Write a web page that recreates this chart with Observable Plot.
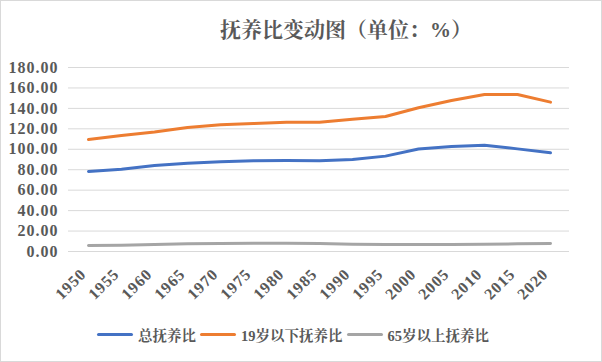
<!DOCTYPE html>
<html>
<head>
<meta charset="utf-8">
<script src="https://cdn.jsdelivr.net/npm/d3@7"></script>
<script src="https://cdn.jsdelivr.net/npm/@observablehq/plot@0.6"></script>
<style>
  html, body { margin: 0; padding: 0; background: #fff; }
  #wrap { position: relative; width: 602px; height: 362px; overflow: hidden; background: #fff;
          font-family: "Liberation Serif", "Noto Serif CJK SC", serif; }
  #border { position: absolute; left: 0; top: 0; width: 602px; height: 362px; box-sizing: border-box;
            border: 1px solid #d9d9d9; pointer-events: none; }
  #title { position: absolute; left: 220px; top: 16px; font-size: 21px; font-weight: bold; color: #595959;
           white-space: nowrap; line-height: 28px; }
  #chart { position: absolute; left: 0; top: 0; }
  #chart svg text { font-family: "Liberation Serif", serif !important; }
  #legend { position: absolute; left: 97px; top: 324px; display: flex; align-items: center; white-space: nowrap;
            font-size: 14.5px; font-weight: bold; color: #595959; }
  .item { display: flex; align-items: center; margin-right: 4px; }
  .swatch { width: 36px; height: 3px; border-radius: 2px; margin-right: 5px; }
</style>
</head>
<body>
<div id="wrap">
  <div id="chart"></div>
  <div id="title">抚养比变动图（单位：%）</div>
  <div id="legend"></div>
  <div id="border"></div>
</div>
<script>
const years = ["1950","1955","1960","1965","1970","1975","1980","1985","1990","1995","2000","2005","2010","2015","2020"];
const seriesNames = ["总抚养比", "19岁以下抚养比", "65岁以上抚养比"];
const totalRatio = [78.3, 80.5, 84.1, 86.4, 87.7, 88.7, 89.0, 88.7, 90.0, 93.3, 100.2, 102.7, 104.0, 100.4, 96.6];
const youthRatio = [109.6, 113.4, 116.8, 121.3, 123.9, 125.2, 126.5, 126.5, 129.4, 132.1, 140.6, 147.7, 153.6, 153.6, 146.1];
const elderRatio = [5.9, 6.2, 6.9, 7.5, 7.8, 8.0, 8.0, 7.8, 7.2, 6.9, 6.9, 6.9, 7.2, 7.5, 7.8];
const yTicks = [0, 20, 40, 60, 80, 100, 120, 140, 160, 180];
const colors = ["#4472C4", "#ED7D31", "#A5A5A5"];

const seriesValues = [totalRatio, youthRatio, elderRatio];
const data = [];
seriesNames.forEach((name, i) => {
  years.forEach((yr, j) => data.push({series: name, year: yr, value: seriesValues[i][j]}));
});

const chart = Plot.plot({
  width: 602,
  height: 362,
  marginTop: 67,
  marginBottom: 111,
  marginLeft: 68,
  marginRight: 33,
  style: {fontFamily: '"Liberation Serif", serif', background: "transparent"},
  x: {type: "point", domain: years, padding: 0.5, label: null},
  y: {domain: [0, 180], label: null},
  color: {domain: seriesNames, range: colors},
  marks: [
    Plot.gridY(yTicks, {stroke: "#d9d9d9", strokeOpacity: 1, strokeWidth: 1}),
    Plot.axisY(yTicks, {tickSize: 0, tickPadding: 10, tickFormat: d => d.toFixed(2), label: null,
      fontSize: 16, fill: "#595959", fontWeight: "bold"}),
    Plot.axisX(years, {tickSize: 0, tickRotate: -45, tickPadding: 8, label: null,
      fontSize: 16, fill: "#595959", fontWeight: "bold", dx: -5, dy: 12}),
    Plot.line(data, {x: "year", y: "value", z: "series", stroke: "series", strokeWidth: 3,
      strokeLinecap: "round", strokeLinejoin: "round"})
  ]
});
chart.querySelectorAll("text").forEach(t => t.style.letterSpacing = "1px");
document.getElementById("chart").appendChild(chart);

const legend = document.getElementById("legend");
seriesNames.forEach((name, i) => {
  const item = document.createElement("div");
  item.className = "item";
  const sw = document.createElement("div");
  sw.className = "swatch";
  sw.style.background = colors[i];
  const label = document.createElement("span");
  label.textContent = name;
  item.appendChild(sw);
  item.appendChild(label);
  legend.appendChild(item);
});
</script>
</body>
</html>
